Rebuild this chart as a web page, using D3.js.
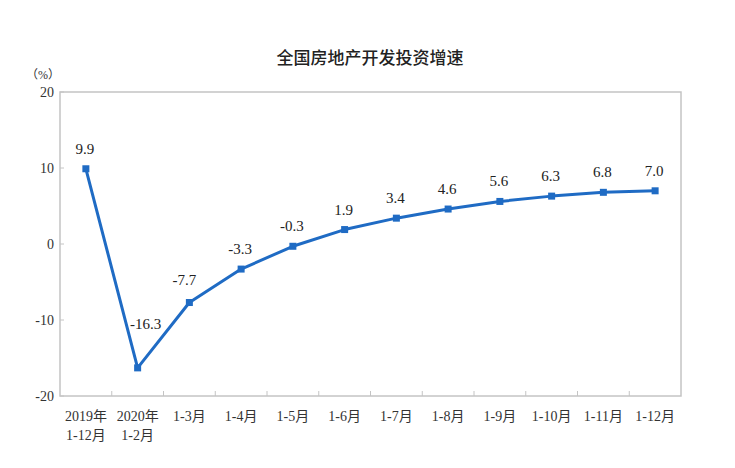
<!DOCTYPE html>
<html><head><meta charset="utf-8">
<script src="https://cdn.jsdelivr.net/npm/d3@7"></script>
<style>body{margin:0;background:#fff}</style>
</head><body>
<svg id="c" width="735" height="468"></svg>
<script>
const categories = ["2019年\n1-12月","2020年\n1-2月","1-3月","1-4月","1-5月","1-6月","1-7月","1-8月","1-9月","1-10月","1-11月","1-12月"];
const values = [9.9,-16.3,-7.7,-3.3,-0.3,1.9,3.4,4.6,5.6,6.3,6.8,7.0];
const yTicks = [20,10,0,-10,-20];
const title = "全国房地产开发投资增速";
const unit = "（%）";

const svg = d3.select("#c");
const m = {l:60, r:681, t:92, b:396};
const x = d3.scaleBand().domain(categories).range([m.l, m.r]);
const y = d3.scaleLinear().domain([-20,20]).range([m.b, m.t]);
const serif = "'Liberation Serif','Times New Roman','Noto Sans CJK SC',serif";
const color = "#1f6bc4";

svg.append("text").attr("x",370).attr("y",64).attr("text-anchor","middle")
  .attr("font-family","'Noto Sans CJK SC',sans-serif").attr("font-size",17).attr("font-weight",500)
  .attr("fill","#222").text(title);

svg.append("text").attr("x",43).attr("y",79).attr("text-anchor","middle")
  .attr("font-family",serif).attr("font-size",12).attr("fill","#333").text(unit);

// frame
svg.append("rect").attr("x",m.l).attr("y",m.t).attr("width",m.r-m.l).attr("height",m.b-m.t)
  .attr("fill","none").attr("stroke","#c4c4c4").attr("stroke-width",1.5);

// y ticks
const yg = svg.append("g");
yTicks.forEach(t=>{
  yg.append("line").attr("x1",m.l).attr("x2",m.l+4).attr("y1",y(t)).attr("y2",y(t)).attr("stroke","#c4c4c4");
  yg.append("text").attr("x",m.l-6).attr("y",y(t)).attr("dy","0.35em").attr("text-anchor","end")
    .attr("font-family",serif).attr("font-size",14).attr("fill","#333").text(t);
});

// x ticks at band boundaries
categories.slice(1).forEach(c=>{
  const xx = x(c);
  svg.append("line").attr("x1",xx).attr("x2",xx).attr("y1",m.b).attr("y2",m.b-5).attr("stroke","#c4c4c4");
});
categories.forEach(c=>{
  const lines = c.split("\n");
  const t = svg.append("text").attr("x",x(c)+x.bandwidth()/2).attr("y",m.b+25).attr("text-anchor","middle")
    .attr("font-family",serif).attr("font-size",14).attr("fill","#333");
  lines.forEach((s,i)=>t.append("tspan").attr("x",x(c)+x.bandwidth()/2).attr("dy",i?19:0).text(s));
});

const cx = c=>x(c)+x.bandwidth()/2;
const data = categories.map((c,i)=>({c,v:values[i]}));
svg.append("path").datum(data).attr("fill","none").attr("stroke",color).attr("stroke-width",3)
  .attr("stroke-linejoin","round")
  .attr("d",d3.line().x(d=>cx(d.c)).y(d=>y(d.v)));
svg.selectAll("rect.pt").data(data).join("rect").attr("class","pt")
  .attr("x",d=>cx(d.c)-3.5).attr("y",d=>y(d.v)-3.5).attr("width",7).attr("height",7).attr("fill",color);

svg.selectAll("text.lab").data(data).join("text").attr("class","lab")
  .attr("x",(d,i)=>cx(d.c)+(i===1?8:(i===2?-5:-1)))
  .attr("y",(d,i)=>i===1?y(d.v)-39:(i===2?y(d.v)-18:y(d.v)-15))
  .attr("text-anchor","middle").attr("font-family",serif).attr("font-size",15).attr("fill","#222")
  .text(d=>d.v.toFixed(1));
</script>
</body></html>
